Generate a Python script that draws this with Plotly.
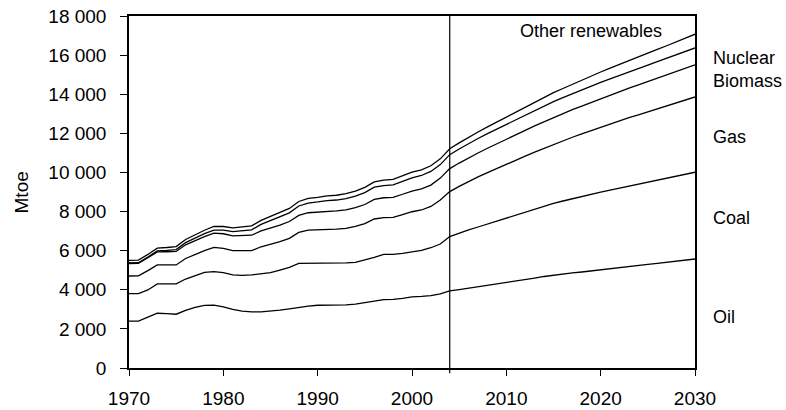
import numpy as np
import plotly.graph_objects as go

years = list(range(1970, 2031))

# Mtoe by fuel (stacked in this order: oil, coal, gas, biomass, nuclear, other renewables incl. hydro)
oil = [2400, 2400, 2600, 2800, 2780, 2750, 2950, 3100, 3200, 3210,
       3130, 3000, 2910, 2870, 2870, 2900, 2960, 3020, 3100, 3160,
       3210, 3210, 3240, 3230, 3270, 3330, 3420, 3500, 3510, 3560,
       3640, 3660, 3700, 3790, 3940,
       4010, 4080, 4150, 4220, 4290, 4360, 4440, 4520, 4600, 4680,
       4750, 4800, 4860, 4910, 4970, 5030, 5080, 5130, 5190, 5240,
       5300, 5350, 5400, 5460, 5520, 5575]
coal = [1400, 1400, 1390, 1500, 1520, 1550, 1600, 1620, 1690, 1720,
        1750, 1760, 1830, 1890, 1940, 1980, 2050, 2130, 2250, 2190,
        2140, 2140, 2120, 2150, 2130, 2190, 2240, 2310, 2300, 2300,
        2290, 2360, 2450, 2550, 2780,
        2890, 2980, 3060, 3140, 3220, 3330, 3400, 3470, 3530, 3600,
        3670, 3740, 3800, 3860, 3910, 3960, 4020, 4070, 4120, 4170,
        4210, 4260, 4310, 4350, 4390, 4435]
gas = [905, 910, 990, 970, 970, 970, 1050, 1090, 1110, 1240,
       1240, 1240, 1260, 1240, 1390, 1440, 1450, 1480, 1580, 1700,
       1710, 1740, 1740, 1760, 1840, 1860, 1960, 1880, 1890, 1980,
       2060, 2060, 2110, 2250, 2300,
       2390, 2480, 2560, 2630, 2680, 2710, 2780, 2840, 2910, 2960,
       3020, 3080, 3140, 3200, 3260, 3330, 3380, 3440, 3490, 3540,
       3590, 3640, 3690, 3740, 3790, 3850]
biomass = [640, 645, 655, 665, 675, 690, 700, 710, 720, 730,
           745, 755, 770, 790, 810, 830, 845, 860, 875, 890,
           905, 920, 935, 950, 965, 980, 1000, 1015, 1030, 1045,
           1060, 1075, 1095, 1120, 1176,
           1190, 1210, 1225, 1245, 1265, 1283, 1300, 1320, 1340, 1355,
           1375, 1390, 1410, 1425, 1440, 1460, 1475, 1495, 1510, 1525,
           1545, 1565, 1580, 1600, 1620, 1645]
nuclear = [25, 29, 38, 53, 67, 95, 110, 130, 150, 155,
           186, 220, 240, 275, 330, 385, 415, 445, 480, 495,
           525, 550, 555, 575, 585, 605, 625, 625, 635, 655,
           675, 690, 695, 690, 714,
           722, 730, 740, 752, 763, 775, 782, 789, 796, 803,
           810, 813, 816, 819, 822, 826, 829, 833, 836, 840,
           843, 847, 850, 854, 857, 861]
other_renewables = [130, 130, 135, 140, 150, 155, 160, 165, 175, 180,
                    185, 190, 195, 205, 210, 215, 220, 225, 230, 235,
                    240, 245, 245, 255, 260, 270, 275, 280, 285, 285,
                    290, 285, 290, 295, 299,
                    310, 320, 330, 345, 360, 379, 393, 407, 422, 437,
                    453, 468, 483, 498, 514, 530, 546, 562, 578, 595,
                    612, 630, 648, 666, 685, 704]

series_names = ["Oil", "Coal", "Gas", "Biomass", "Nuclear", "Other renewables"]
series_values = [oil, coal, gas, biomass, nuclear, other_renewables]

projection_start = 2004

y_ticks = [0, 2000, 4000, 6000, 8000, 10000, 12000, 14000, 16000, 18000]
y_tick_labels = ["0", "2 000", "4 000", "6 000", "8 000", "10 000",
                 "12 000", "14 000", "16 000", "18 000"]
x_ticks = [1970, 1980, 1990, 2000, 2010, 2020, 2030]

# label positions (x as fraction of plot width, y in Mtoe)
label_text = ["Oil", "Coal", "Gas", "Biomass", "Nuclear", "Other renewables"]
label_x = [1.028, 1.028, 1.028, 1.028, 1.028, 0.687]
label_y = [2620, 7670, 11820, 14660, 15870, 17230]

FONT = "Liberation Sans, Arial, sans-serif"
FS = 19
FS_LABEL = 18

fig = go.Figure()
cum = np.cumsum(np.array(series_values, dtype=float), axis=0)
for name, vals in zip(series_names, cum):
    fig.add_trace(go.Scatter(x=years, y=vals, mode="lines", name=name,
                             line=dict(color="black", width=1.3),
                             showlegend=False, hoverinfo="skip"))

fig.add_shape(type="line", xref="x", yref="paper", x0=projection_start,
              x1=projection_start, y0=-0.015, y1=1,
              line=dict(color="black", width=1.2))

for t, lx, ly in zip(label_text, label_x, label_y):
    fig.add_annotation(x=lx, y=ly, xref="paper", yref="y", text=t,
                       showarrow=False, xanchor="left", yanchor="middle",
                       font=dict(family=FONT, size=FS_LABEL, color="black"))

fig.add_annotation(x=-0.19, y=0.5, xref="paper", yref="paper", text="Mtoe",
                   showarrow=False, textangle=-90, xanchor="center",
                   yanchor="middle",
                   font=dict(family=FONT, size=FS, color="black"))

fig.update_layout(
    width=786, height=410,
    margin=dict(l=129, r=91, t=16, b=42, autoexpand=False),
    paper_bgcolor="white", plot_bgcolor="white",
    font=dict(family=FONT, size=FS, color="black"),
)
fig.update_xaxes(range=[1970, 2030], tickvals=x_ticks,
                 ticktext=[str(v) for v in x_ticks],
                 showgrid=False, zeroline=False, automargin=False,
                 showline=True, linecolor="black", linewidth=1.5, mirror=True,
                 ticks="outside", ticklen=6, tickcolor="black", tickwidth=1.3,
                 ticklabelstandoff=6,
                 tickfont=dict(family=FONT, size=FS, color="black"))
fig.update_yaxes(range=[0, 18000], tickvals=y_ticks, ticktext=y_tick_labels,
                 showgrid=False, zeroline=False, automargin=False,
                 showline=True, linecolor="black", linewidth=1.5, mirror=True,
                 ticks="outside", ticklen=7, tickcolor="black", tickwidth=1.3,
                 ticklabelstandoff=10,
                 tickfont=dict(family=FONT, size=FS, color="black"))

fig.write_html(
    "out.html",
    config={"displayModeBar": False},
    post_script="document.body.style.margin='0';document.body.style.overflow='hidden';",
)
